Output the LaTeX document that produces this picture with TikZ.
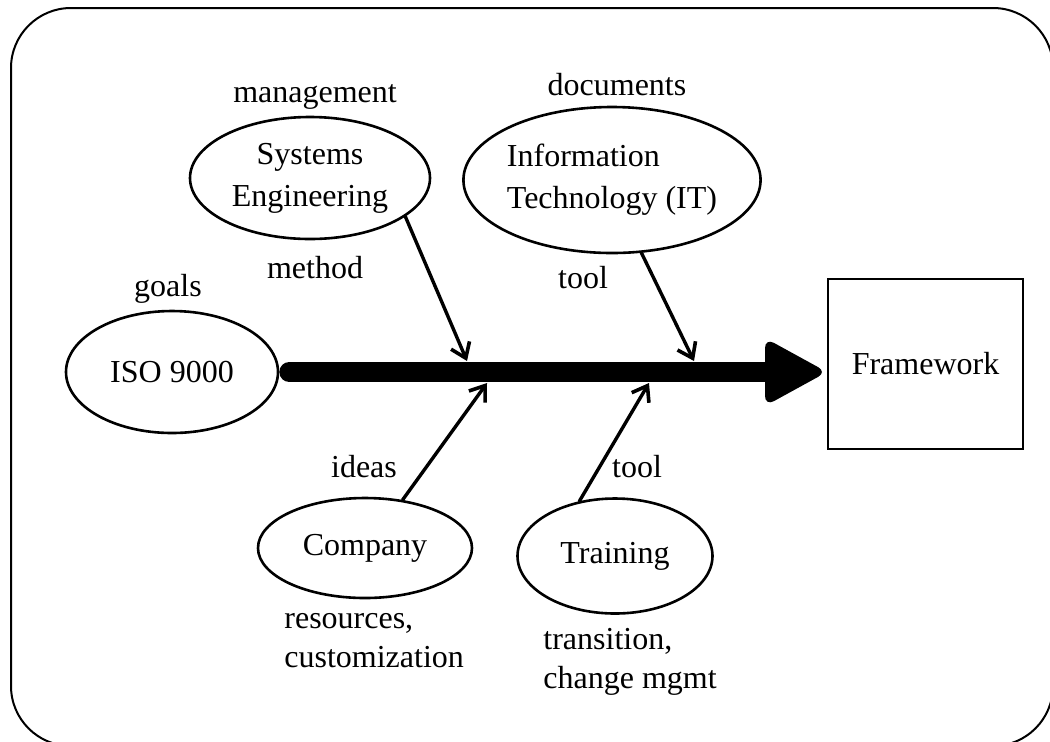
\documentclass[tikz,border=0pt]{standalone}
\usepackage{fontspec}
\setmainfont{Liberation Serif}
\usetikzlibrary{arrows.meta,calc,shapes.geometric}
\begin{document}
\begin{tikzpicture}[x=0.5pt,y=-0.5pt,
  font=\fontsize{16}{21}\selectfont,
  bubble/.style={draw,ellipse,line width=1.3pt,inner sep=0pt},
  feed/.style={line width=1.7pt,line cap=round,
    -{Straight Barb[length=7pt,width=10pt,line width=1.8pt]}},
  lbl/.style={anchor=base,inner sep=0pt},
  note/.style={anchor=base west,inner sep=0pt,align=left,
    font=\fontsize{16}{19.5}\selectfont},
  spine/.style={line width=10pt,line cap=round},
]
\useasboundingbox (0,0) rectangle (1050,741);

% outer frame
\draw[line width=1pt,rounded corners=30pt] (11,8) rectangle (1053,746);

% cause bubbles
\node[bubble,minimum width=106pt,minimum height=61pt] (iso) at (172,372) {ISO 9000};
\node[bubble,minimum width=120pt,minimum height=61pt,align=center] (se) at (310,178) {Systems\\Engineering};
\node[bubble,minimum width=144pt,minimum height=73pt,align=left] (it) at (612,180) {Information\\Technology (IT)};
\node[bubble,minimum width=107pt,minimum height=50pt] (co) at (365,548) {Company};
\node[bubble,minimum width=97.5pt,minimum height=57.5pt] (tr) at (615,556) {Training};

% outcome box
\node[draw,line width=1pt,minimum width=97.5pt,minimum height=85pt,inner sep=0pt] (fw) at (925.5,364) {Framework};

% main spine with its head
\coordinate (tip) at (iso.east -| fw.west);
\coordinate (hb) at ($(tip)+(-62,0)$);
\draw[spine,shorten <=5pt] (iso.east) -- (hb);
\fill[rounded corners=5pt] (tip) -- ($(hb)+(0,-34)$) -- ($(hb)+(0,34)$) -- cycle;

% where the feeders meet the spine
\coordinate (se-in) at (467,361);
\coordinate (it-in) at (694,361);
\coordinate (co-in) at (487,383);
\coordinate (tr-in) at (649,383);
\draw[feed] (se.-22.5) -- (se-in);
\draw[feed] (it.-68.6) -- (it-in);
\draw[feed] (co.52) -- (co-in);
\draw[feed] (tr.123) -- (tr-in);

% labels
\node[lbl] (l-goals) at (168,296) {goals};
\node[lbl] (l-mgmt) at (315,102) {management};
\node[lbl] (l-method) at (315,278) {method};
\node[lbl] (l-docs) at (617,95) {documents};
\node[lbl] (l-tool1) at (583,288) {tool};
\node[lbl] (l-ideas) at (364,477) {ideas};
\node[lbl] (l-tool2) at (637,477) {tool};
\node[note] (l-res) at (284,667) {resources,\\customization};
\node[note] (l-trans) at (543,688) {transition,\\change mgmt};
\end{tikzpicture}
\end{document}
